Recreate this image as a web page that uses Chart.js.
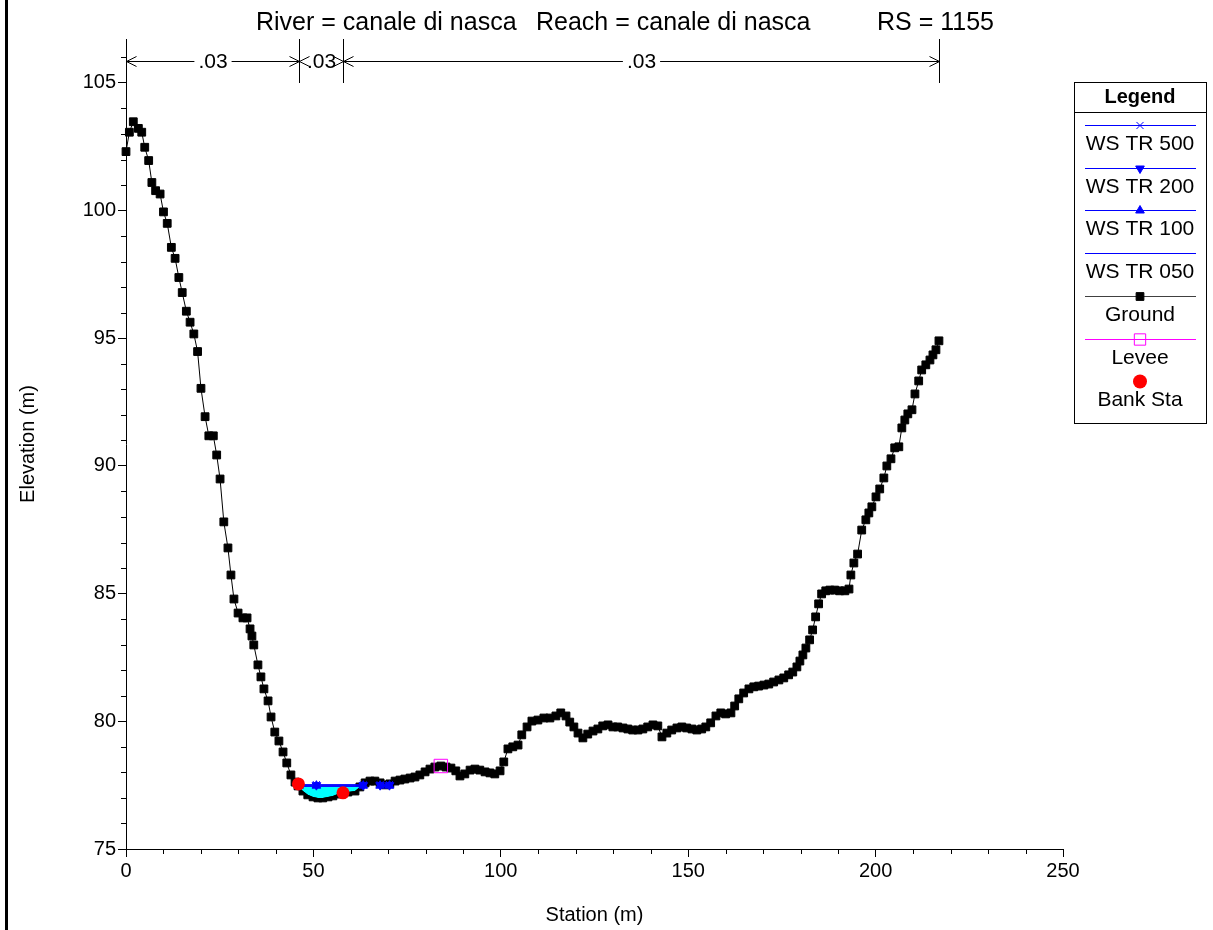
<!DOCTYPE html>
<html>
<head>
<meta charset="utf-8">
<script src="https://cdn.jsdelivr.net/npm/chart.js@4.4.1/dist/chart.umd.min.js"></script>
<style>
  html, body { margin: 0; padding: 0; background: #fff; }
</style>
</head>
<body>
<canvas id="chart" width="1213" height="930"></canvas>
<script>
const FONT = 'Arial, "Liberation Sans", sans-serif';

const titleParts = ['River = canale di nasca', 'Reach = canale di nasca', 'RS = 1155'];

// ground profile
const groundSta = [0, 0.9, 1.95, 3.3, 4.2, 5.0, 6.05, 6.9, 7.9, 9.1,
  10.0, 11.0, 12.1, 13.1, 14.1, 15.0, 16.1, 17.1, 18.1, 19.1,
  20.0, 21.1, 22.1, 23.3, 24.2, 25.1, 26.1, 27.2, 28.0, 28.8,
  29.9, 31.2, 32.3, 33.1, 33.6, 34.1, 35.2, 36.0, 36.8, 37.9,
  38.7, 39.7, 40.8, 41.9, 42.9, 44.0, 45.1, 45.9, 47.2, 48.5,
  49.9, 51.2, 52.5, 53.9, 55.2, 56.5, 57.9, 59.2, 61.1, 62.4,
  63.8, 65.1, 66.4, 67.8, 69.1, 70.4, 71.8, 73.1, 74.4, 75.8,
  77.1, 78.4, 79.8, 81.1, 82.4, 84.0, 85.4, 86.7, 88.0, 89.1,
  90.4, 91.8, 93.1, 94.4, 95.8, 97.1, 98.4, 99.8, 100.8, 101.9,
  103.2, 104.6, 105.6, 107.0, 108.3, 109.9, 111.5, 113.1, 114.7, 116.0,
  117.4, 118.4, 119.5, 120.6, 121.9, 123.2, 124.6, 125.9, 127.2, 128.6,
  129.9, 131.2, 132.6, 133.9, 135.2, 136.6, 137.9, 139.2, 140.6, 141.9,
  143.0, 144.3, 145.6, 147.0, 148.3, 149.6, 151.0, 152.3, 153.6, 154.7,
  156.0, 157.4, 158.7, 160.0, 161.4, 162.4, 163.5, 164.8, 166.2, 167.5,
  168.8, 170.2, 171.5, 172.8, 174.2, 175.5, 176.8, 177.9, 179.0, 179.8,
  180.6, 181.4, 182.4, 183.2, 184.0, 184.8, 185.6, 186.7, 187.8, 189.1,
  190.4, 191.8, 192.9, 193.4, 194.2, 195.2, 196.3, 197.4, 198.2, 199.0,
  200.1, 201.1, 202.2, 203.0, 204.1, 205.1, 206.2, 207.0, 207.8, 208.6,
  209.7, 210.5, 211.5, 212.3, 213.4, 214.5, 215.3, 216.1, 216.9];
const groundElev = [102.31, 103.07, 103.48, 103.22, 103.07, 102.48, 101.96, 101.10, 100.78, 100.65,
  99.95, 99.50, 98.56, 98.13, 97.38, 96.79, 96.06, 95.63, 95.17, 94.48,
  93.04, 91.93, 91.18, 91.18, 90.43, 89.49, 87.81, 86.79, 85.73, 84.79,
  84.24, 84.05, 84.05, 83.62, 83.34, 82.99, 82.21, 81.74, 81.27, 80.80,
  80.17, 79.58, 79.23, 78.80, 78.37, 77.90, 77.62, 77.47, 77.27, 77.12,
  77.04, 77.00, 77.00, 77.04, 77.08, 77.15, 77.23, 77.23, 77.27, 77.43,
  77.59, 77.66, 77.66, 77.59, 77.51, 77.55, 77.66, 77.70, 77.74, 77.78,
  77.82, 77.90, 78.02, 78.13, 78.21, 78.25, 78.21, 78.17, 78.06, 77.86,
  77.94, 78.09, 78.13, 78.09, 78.02, 77.98, 77.94, 78.06, 78.41, 78.92,
  79.00, 79.07, 79.47, 79.78, 80.01, 80.05, 80.13, 80.13, 80.21, 80.33,
  80.21, 79.97, 79.78, 79.54, 79.35, 79.50, 79.62, 79.70, 79.82, 79.86,
  79.78, 79.78, 79.74, 79.70, 79.66, 79.66, 79.70, 79.78, 79.86, 79.82,
  79.39, 79.54, 79.66, 79.74, 79.78, 79.74, 79.70, 79.66, 79.70, 79.78,
  79.94, 80.21, 80.33, 80.29, 80.33, 80.60, 80.88, 81.11, 81.27, 81.35,
  81.38, 81.42, 81.46, 81.54, 81.62, 81.70, 81.82, 81.93, 82.13, 82.36,
  82.60, 82.87, 83.19, 83.58, 84.09, 84.60, 84.99, 85.11, 85.14, 85.14,
  85.11, 85.11, 85.18, 85.73, 86.20, 86.55, 87.49, 87.89, 88.16, 88.40,
  88.79, 89.10, 89.53, 90.00, 90.28, 90.71, 90.75, 91.49, 91.80, 92.04,
  92.20, 92.82, 93.33, 93.76, 93.96, 94.15, 94.35, 94.55, 94.90];

// water surfaces (null = gap between the two wet pockets)
const wsSta = [46.2, 50.8, 63.3, 65.5, 67.8, 70.3];
const ws500 = [77.52, 77.52, 77.52, null, 77.52, 77.52];
const ws200 = [77.50, 77.50, 77.50, null, 77.50, 77.50];
const ws100 = [77.48, 77.48, 77.48, null, 77.48, 77.48];
const ws050 = [77.45, 77.45, 77.45, null, 77.45, 77.45];

const leveeSta = [84.0];
const leveeElev = [78.25];
const bankSta = [46.0, 57.9];
const bankElev = [77.55, 77.20];

// manning n values between breaks
const nBreaks = [0, 46.2, 57.9, 217.0];
const nValues = ['.03', '.03', '.03'];

const legendLabels = ['WS TR 500', 'WS TR 200', 'WS TR 100', 'WS TR 050', 'Ground', 'Levee', 'Bank Sta'];

const pts = (xs, ys) => xs.map((x, i) => ({ x: x, y: ys[i] }));

const wsDataset = (label, ys, style, rotation, order) => ({
  label: label,
  data: pts(wsSta, ys),
  showLine: true,
  borderColor: '#0000ff',
  borderWidth: 1,
  pointStyle: style,
  rotation: rotation,
  pointRadius: style ? 5 : 0,
  pointBackgroundColor: '#0000ff',
  pointBorderColor: '#0000ff',
  pointBorderWidth: 1,
  spanGaps: false,
  order: order,
});

const ws050Set = wsDataset('WS TR 050', ws050, false, 0, 5);
ws050Set.fill = { target: 4, above: '#00ffff', below: 'rgba(0,0,0,0)' };

const datasets = [
  wsDataset('WS TR 500', ws500, 'crossRot', 0, 2),
  wsDataset('WS TR 200', ws200, 'triangle', 180, 3),
  wsDataset('WS TR 100', ws100, 'triangle', 0, 4),
  ws050Set,
  {
    label: 'Ground',
    data: pts(groundSta, groundElev),
    showLine: true,
    borderColor: '#000',
    borderWidth: 1,
    pointStyle: 'rect',
    pointRadius: 5.5,
    pointBackgroundColor: '#000',
    pointBorderColor: '#000',
    pointBorderWidth: 1,
    clip: false,
    order: 6,
  },
  {
    label: 'Levee',
    data: pts(leveeSta, leveeElev),
    showLine: false,
    pointStyle: 'rect',
    pointRadius: 9.5,
    pointBackgroundColor: 'rgba(0,0,0,0)',
    pointBorderColor: '#ff00ff',
    pointBorderWidth: 1,
    clip: false,
    order: 1,
  },
  {
    label: 'Bank Sta',
    data: pts(bankSta, bankElev),
    showLine: false,
    pointStyle: 'circle',
    pointRadius: 6.5,
    pointBackgroundColor: '#ff0000',
    pointBorderColor: '#ff0000',
    pointBorderWidth: 0,
    clip: false,
    order: 0,
  },
];

const extras = {
  id: 'extras',
  afterDraw(chart) {
    const ctx = chart.ctx;
    const xs = chart.scales.x;
    const ys = chart.scales.y;
    const area = chart.chartArea;
    ctx.save();

    // window border on the left
    ctx.fillStyle = '#000';
    ctx.fillRect(5, 0, 3, 930);

    // title
    ctx.fillStyle = '#000';
    ctx.font = '25px ' + FONT;
    ctx.textBaseline = 'middle';
    ctx.textAlign = 'left';
    ctx.fillText(titleParts[0], 256, 23);
    ctx.fillText(titleParts[1], 536, 23);
    ctx.textAlign = 'right';
    ctx.fillText(titleParts[2], 994, 23);

    // minor ticks
    ctx.strokeStyle = '#000';
    ctx.lineWidth = 1;
    ctx.beginPath();
    for (let v = 76; v <= 106; v++) {
      if (v % 5 === 0) continue;
      const y = Math.round(ys.getPixelForValue(v)) + 0.5;
      ctx.moveTo(area.left - 5, y);
      ctx.lineTo(area.left, y);
    }
    for (let v = 10; v < 250; v += 10) {
      if (v % 50 === 0) continue;
      const x = Math.round(xs.getPixelForValue(v)) + 0.5;
      ctx.moveTo(x, area.bottom);
      ctx.lineTo(x, area.bottom + 5);
    }
    ctx.stroke();

    // n value bar
    const yn = 61.5;
    const px = nBreaks.map(v => Math.round(xs.getPixelForValue(v)) + 0.5);
    ctx.beginPath();
    for (let i = 1; i < px.length; i++) {
      ctx.moveTo(px[i], area.top);
      ctx.lineTo(px[i], 83);
    }
    ctx.stroke();
    ctx.font = '21px ' + FONT;
    ctx.textAlign = 'center';
    for (let i = 0; i < nValues.length; i++) {
      const a = px[i], b = px[i + 1];
      const mid = (a + b) / 2;
      const tw = ctx.measureText(nValues[i]).width + 8;
      ctx.beginPath();
      if (b - a > tw + 24) {
        ctx.moveTo(a, yn);
        ctx.lineTo(mid - tw / 2, yn);
        ctx.moveTo(mid + tw / 2, yn);
        ctx.lineTo(b, yn);
      }
      ctx.moveTo(a + 10, yn - 5);
      ctx.lineTo(a, yn);
      ctx.lineTo(a + 10, yn + 5);
      ctx.moveTo(b - 10, yn - 5);
      ctx.lineTo(b, yn);
      ctx.lineTo(b - 10, yn + 5);
      ctx.stroke();
      ctx.fillText(nValues[i], mid, yn + 1);
    }

    // legend box
    const lx = 1074, rx = 1206, top = 82, bottom = 423;
    const cx = (lx + rx) / 2;
    ctx.strokeStyle = '#000';
    ctx.strokeRect(lx + 0.5, top + 0.5, rx - lx, bottom - top);
    ctx.beginPath();
    ctx.moveTo(lx, 112.5);
    ctx.lineTo(rx, 112.5);
    ctx.stroke();
    ctx.fillStyle = '#000';
    ctx.font = 'bold 20px ' + FONT;
    ctx.fillText('Legend', cx, 97);
    ctx.font = '21px ' + FONT;

    const sets = chart.data.datasets;
    sets.forEach((ds, k) => {
      const ly = Math.round(125 + k * 42.7) + 0.5;
      if (ds.showLine || ds.label === 'Levee') {
        ctx.strokeStyle = ds.label === 'Ground' ? '#404040' : (ds.borderColor || ds.pointBorderColor);
        ctx.beginPath();
        ctx.moveTo(1085, ly);
        ctx.lineTo(1196, ly);
        ctx.stroke();
      }
      if (ds.pointStyle && ds.pointRadius) {
        ctx.fillStyle = ds.pointBackgroundColor;
        ctx.strokeStyle = ds.pointBorderColor;
        const r = ds.label === 'Levee' ? 8 : (ds.label === 'Bank Sta' ? 7 : ds.pointRadius);
        Chart.helpers.drawPoint(ctx, {
          pointStyle: ds.pointStyle,
          rotation: ds.rotation || 0,
          radius: r,
          borderWidth: ds.pointBorderWidth,
        }, cx, ly);
      }
      ctx.fillStyle = '#000';
      ctx.fillText(legendLabels[k], cx, ly + 18.5);
    });

    ctx.restore();
  },
};

new Chart(document.getElementById('chart'), {
  type: 'scatter',
  data: { datasets: datasets },
  options: {
    responsive: false,
    animation: false,
    layout: { padding: { top: 39, right: 150, bottom: 0, left: 0 } },
    plugins: {
      legend: { display: false },
      tooltip: { enabled: false },
    },
    scales: {
      x: {
        type: 'linear',
        min: 0,
        max: 250,
        afterFit: s => { s.height = 81; },
        ticks: { stepSize: 50, color: '#000', font: { family: FONT, size: 20 }, padding: 2 },
        grid: { drawOnChartArea: false, tickLength: 8, tickColor: '#000' },
        border: { color: '#000', width: 1 },
        title: { display: true, text: 'Station (m)', color: '#000', font: { family: FONT, size: 20 }, padding: { top: 0, bottom: 3 } },
      },
      y: {
        type: 'linear',
        min: 75,
        max: 106.72,
        afterFit: s => { s.width = 126; },
        ticks: { stepSize: 5, includeBounds: false, color: '#000', font: { family: FONT, size: 20 }, padding: 2 },
        grid: { drawOnChartArea: false, tickLength: 8, tickColor: '#000' },
        border: { color: '#000', width: 1 },
        title: { display: true, text: 'Elevation (m)', color: '#000', font: { family: FONT, size: 20 }, padding: { top: 16, bottom: 0 } },
      },
    },
  },
  plugins: [extras],
});
</script>
</body>
</html>
